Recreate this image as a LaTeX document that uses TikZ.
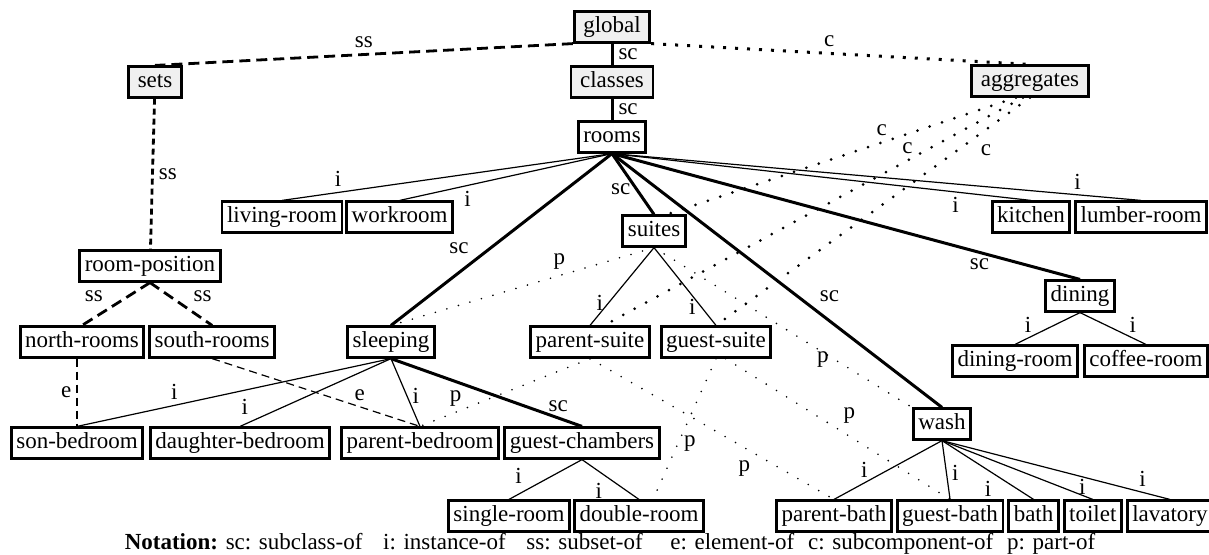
\documentclass[tikz,border=0pt]{standalone}
\usepackage{fontspec}
\setmainfont{Liberation Serif}
\usetikzlibrary{positioning}

\tikzset{
  box/.style={draw, line width=1.4pt, fill=white, inner xsep=2.5pt, inner ysep=2.2pt,
    text height=8.2pt, text depth=2.6pt},
  topbox/.style={box, fill=gray!12, inner xsep=4.5pt},
  lbl/.style={inner sep=2.5pt},
  scline/.style={line width=1.5pt},
  iline/.style={line width=0.6pt},
  ssline/.style={line width=1.4pt, dash pattern=on 5.5pt off 3pt},
  eline/.style={line width=0.6pt, dash pattern=on 4pt off 2.5pt},
  cline/.style={line width=1.5pt, line cap=round, dash pattern=on 0pt off 6.5pt},
  pline/.style={line width=0.9pt, line cap=round, dash pattern=on 0pt off 6pt}
}

\begin{document}
\begin{tikzpicture}[x=0.5pt, y=-0.5pt, font=\fontsize{11.5}{13}\selectfont]
  \useasboundingbox (0,0) rectangle (1209,554);

  % top of the hierarchy
  \node[topbox] (global) at (612,27) {global};
  \node[topbox] (classes) at (612,82) {classes};
  \node[topbox] (sets) at (155,82) {sets};
  \node[topbox] (aggregates) at (1030,81) {aggregates};
  \node[box] (rooms) at (612,137) {rooms};

  % room classes
  \node[box] (living-room) at (282,217) {living-room};
  \node[box, right=1pt of living-room] (workroom) {workroom};
  \node[box] (kitchen) at (1031,217) {kitchen};
  \node[box, right=1.5pt of kitchen] (lumber-room) {lumber-room};
  \node[box] (suites) at (654,231) {suites};
  \node[box] (room-position) at (150,266) {room-position};
  \node[box] (dining) at (1080,296) {dining};
  \node[box] (north-rooms) at (82,342) {north-rooms};
  \node[box, right=1.5pt of north-rooms] (south-rooms) {south-rooms};
  \node[box] (sleeping) at (391,342) {sleeping};
  \node[box] (parent-suite) at (590,342) {parent-suite};
  \node[box] (guest-suite) at (716,342) {guest-suite};
  \node[box] (dining-room) at (1015,361) {dining-room};
  \node[box, right=2pt of dining-room] (coffee-room) {coffee-room};
  \node[box] (wash) at (942,424) {wash};

  % bedrooms
  \node[box] (son-bedroom) at (77,443) {son-bedroom};
  \node[box] (daughter-bedroom) at (240,443) {daughter-bedroom};
  \node[box] (parent-bedroom) at (420,443) {parent-bedroom};
  \node[box] (guest-chambers) at (582,443) {guest-chambers};
  \node[box] (single-room) at (509,516) {single-room};
  \node[box] (double-room) at (639,516) {double-room};

  % bathrooms
  \node[box] (parent-bath) at (834,516) {parent-bath};
  \node[box, right=1.5pt of parent-bath] (guest-bath) {guest-bath};
  \node[box, right=1.5pt of guest-bath] (bath) {bath};
  \node[box, right=1.5pt of bath] (toilet) {toilet};
  \node[box, right=1.5pt of toilet] (lavatory) {lavatory};

  % global, sets, aggregates
  \draw[scline] (global) -- node[lbl, right] {sc} (classes);
  \draw[scline] (classes) -- node[lbl, right] {sc} (rooms);
  \draw[ssline] (global.south west) -- node[lbl, pos=.5, above] {ss} (sets.north);
  \draw[cline, line cap=butt, dash pattern=on 1.5pt off 4.5pt] (global.south east)
    -- node[lbl, pos=.47, above] {c} (aggregates.north);
  \draw[ssline, dash pattern=on 3pt off 2pt] (sets) -- node[lbl, right] {ss} (room-position);
  \draw[ssline] (room-position.south) -- node[lbl, pos=.6, above left] {ss} (north-rooms.north);
  \draw[ssline] (room-position.south) -- node[lbl, pos=.6, above right] {ss} (south-rooms.north);

  % from rooms
  \draw[iline] (rooms.south) -- node[lbl, pos=.83, above] {i} (living-room.north);
  \draw[iline] (rooms.south) -- node[lbl, pos=.68, below] {i} (workroom.north);
  \draw[iline] (rooms.south) -- node[lbl, pos=.82, below] {i} (kitchen.north);
  \draw[iline] (rooms.south) -- node[lbl, pos=.88, above] {i} (lumber-room.north);
  \draw[scline] (rooms.south) -- node[lbl, pos=.62, above left] {sc} (sleeping.north);
  \draw[scline] (rooms.south) -- node[lbl, pos=.59, left] {sc} (suites.north);
  \draw[scline] (rooms.south) -- node[lbl, pos=.61, above right] {sc} (wash.north);
  \draw[scline] (rooms.south) -- node[lbl, pos=.785, below] {sc} (dining.north);

  \draw[iline] (suites.south) -- node[lbl, pos=.71, left] {i} (parent-suite.north);
  \draw[iline] (suites.south) -- node[lbl, pos=.76, left] {i} (guest-suite.north);
  \draw[iline] (dining.south) -- node[lbl, pos=.8, above] {i} (dining-room.north);
  \draw[iline] (dining.south) -- node[lbl, pos=.8, above] {i} (coffee-room.north);

  % sleeping
  \draw[iline] (sleeping.south) -- node[lbl, pos=.69, above] {i} (son-bedroom.north);
  \draw[iline] (sleeping.south) -- node[lbl, pos=.91, above left] {i} (daughter-bedroom.north);
  \draw[iline] (sleeping.south) -- node[lbl, pos=.55, right] {i} (parent-bedroom.north);
  \draw[scline] (sleeping.south) -- node[lbl, pos=.875, above] {sc} (guest-chambers.north);
  \draw[eline] (north-rooms.south -| son-bedroom.north) -- node[lbl, left] {e} (son-bedroom.north);
  \draw[eline] (south-rooms.south) -- node[lbl, pos=.71, above] {e} (parent-bedroom.north);
  \draw[iline] (guest-chambers.south) -- node[lbl, pos=.75, above left] {i} (single-room.north);
  \draw[iline] (guest-chambers.south) -- node[lbl, pos=.45, below left] {i} (double-room.north);

  % wash
  \draw[iline] (wash.south) -- node[lbl, pos=.72, above] {i} (parent-bath.north);
  \draw[iline] (wash.south) -- node[lbl, pos=.55, right] {i} (guest-bath.north);
  \draw[iline] (wash.south) -- node[lbl, pos=.6, below left] {i} (bath.north);
  \draw[iline] (wash.south) -- node[lbl, pos=.93, above, inner sep=0pt] {i} (toilet.north);
  \draw[iline] (wash.south) -- node[lbl, pos=.88, above] {i} (lavatory.north);

  % part-of
  \draw[pline] (suites.south) -- node[lbl, pos=.36, above] {p} (sleeping.north);
  \draw[pline] (suites.south) -- node[lbl, pos=.7, left] {p} (wash.north west);
  \draw[pline] (parent-suite.south) -- node[lbl, pos=.79, above] {p} (parent-bedroom.north);
  \draw[pline] (parent-suite.south) -- node[lbl, pos=.68, below left] {p} (parent-bath.north);
  \draw[pline] (guest-suite.south) -- node[lbl, pos=.6, right] {p} ([xshift=7pt]double-room.north);
  \draw[pline] (guest-suite.-60) -- node[lbl, pos=.5, above right] {p} (guest-bath.north);

  % subcomponent-of
  \draw[cline] ([xshift=-7pt]aggregates.south) -- node[lbl, pos=.385, above] {c} ([xshift=6.5pt]suites.north);
  \draw[cline] ([xshift=-3.5pt]aggregates.south) -- node[lbl, pos=.276, above] {c} ([xshift=7pt]parent-suite.north);
  \draw[cline] (aggregates.south) -- node[lbl, pos=.177, below right] {c} (guest-suite.north);

  \node (notation) at (610,544) {\textbf{Notation:} sc: subclass-of\hspace{0.9em}i: instance-of\hspace{0.9em}ss: subset-of\hspace{1.2em}e: element-of\hspace{0.6em}c: subcomponent-of\hspace{0.6em}p: part-of};
\end{tikzpicture}
\end{document}
